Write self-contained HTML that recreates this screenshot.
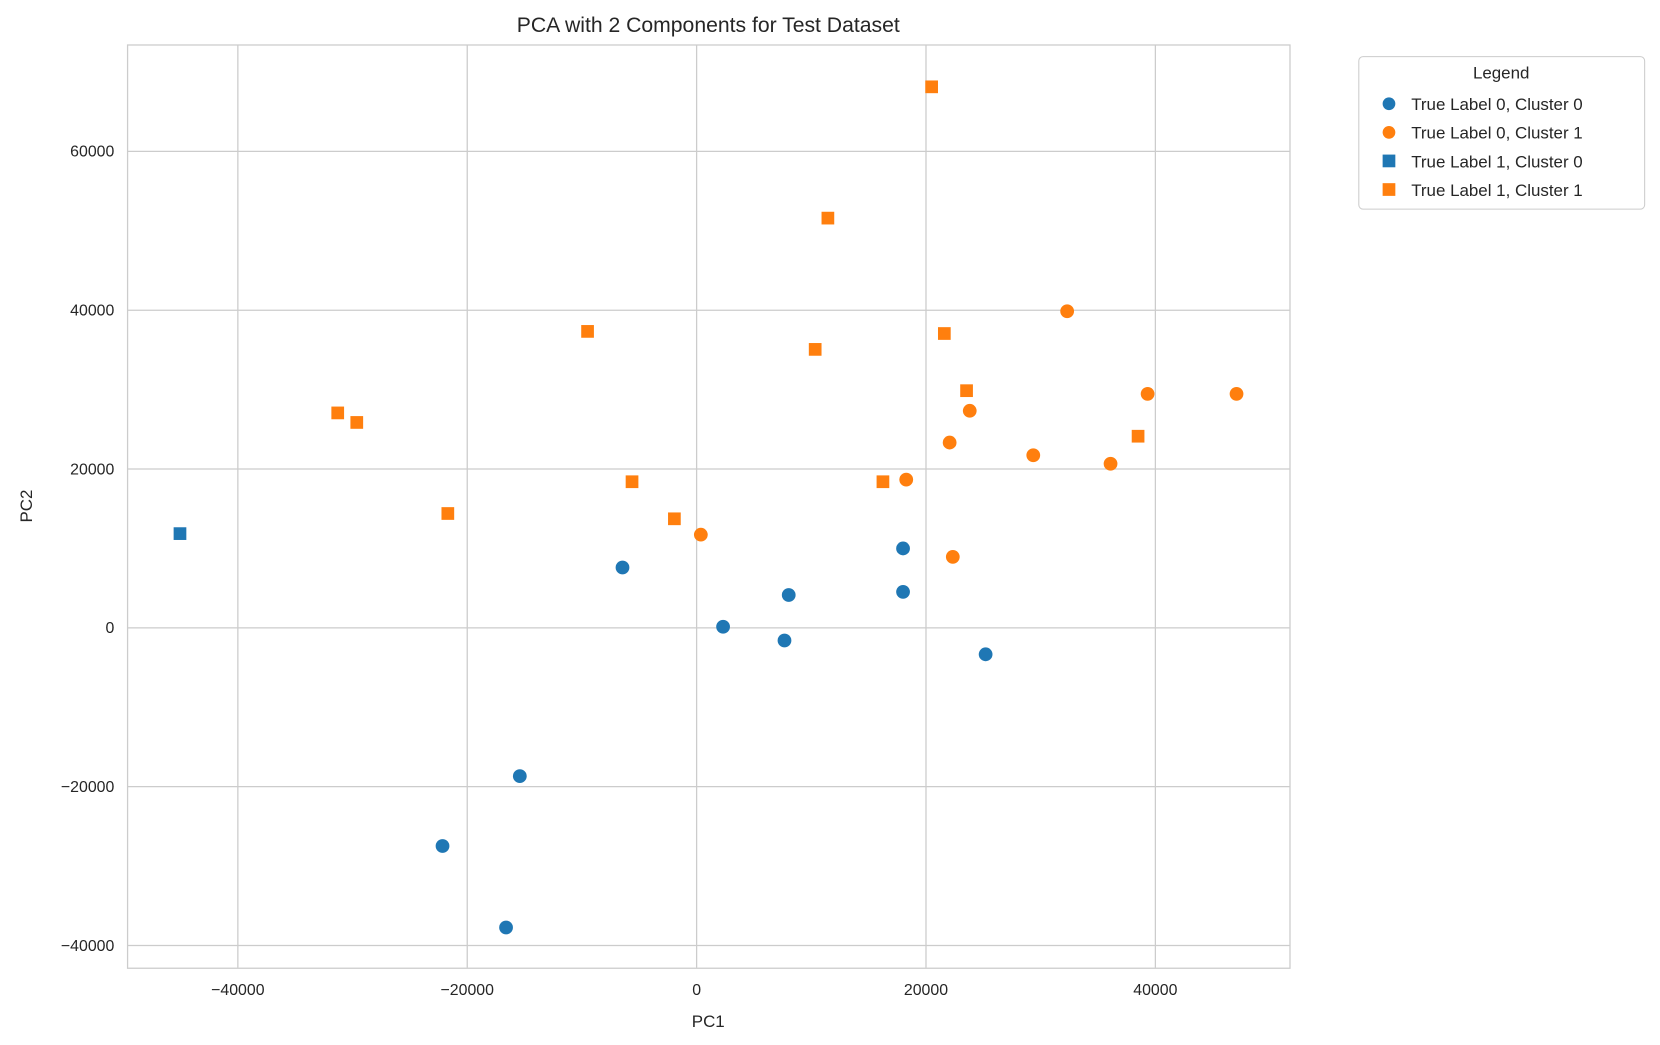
<!DOCTYPE html>
<html><head><meta charset="utf-8"><style>
body{margin:0;background:#fff;font-family:"Liberation Sans","DejaVu Sans",sans-serif;}
svg{display:block}
svg text{font-family:"Liberation Sans","DejaVu Sans",sans-serif;fill:#262626;}
</style></head><body>
<svg id="chart" width="1660" height="1045" viewBox="0 0 1568 987" preserveAspectRatio="none" xmlns="http://www.w3.org/2000/svg">
<rect width="1568" height="987" fill="#fff"/>
<g id="grid"></g>
<rect x="120.5" y="42.5" width="1098" height="872" fill="none" stroke="#ccc" stroke-width="1.2"/>
<g id="ticks"></g>
<g id="marks"></g>
<text x="669" y="30" font-size="20" text-anchor="middle">PCA with 2 Components for Test Dataset</text>
<text x="669" y="970" font-size="16" text-anchor="middle">PC1</text>
<text x="0" y="0" font-size="16" text-anchor="middle" transform="translate(30,478) rotate(-90)">PC2</text>
<g>
<rect x="1283.5" y="53.5" width="270" height="144" rx="4" fill="#fff" stroke="#ccc"/>
<text x="1418" y="74" font-size="16" text-anchor="middle">Legend</text>
<g id="legend-items"></g>
</g>
</svg>
<script>
const xTicks=[-40000,-20000,0,20000,40000];
const yTicks=[-40000,-20000,0,20000,40000,60000];
const blueCircX=[-6462,2308,8031,7662,18000,18000,25200,-15415,-22154,-16615];
const blueCircY=[7600,133,4133,-1600,10000,4533,-3333,-18667,-27467,-37733];
const orangeCircX=[369,18277,22062,23815,22338,29354,32308,36092,39323,47077];
const orangeCircY=[11733,18667,23333,27333,8933,21733,39867,20667,29467,29467];
const blueSqX=[-45046];
const blueSqY=[11867];
const orangeSqX=[20492,11446,-9508,10338,21600,23538,-31292,-29631,-5631,16246,-21692,-1938,38492];
const orangeSqY=[68133,51600,37333,35067,37067,29867,27067,25867,18400,18400,14400,13733,24133];
const legendLabels=["True Label 0, Cluster 0","True Label 0, Cluster 1","True Label 1, Cluster 0","True Label 1, Cluster 1"];
const BLUE="#1f77b4",ORANGE="#ff7f0e";
const xMin=-49662,xMax=51692,yMin=-42800,yMax=73467;
const L=120,R=1218,T=42,B=914;
const sx=v=>L+(v-xMin)/(xMax-xMin)*(R-L);
const sy=v=>B-(v-yMin)/(yMax-yMin)*(B-T);
const NS="http://www.w3.org/2000/svg";
function mk(tag,attrs,parent){const e=document.createElementNS(NS,tag);for(const k in attrs)e.setAttribute(k,attrs[k]);parent.appendChild(e);return e;}
const grid=document.getElementById('grid'),ticks=document.getElementById('ticks'),marks=document.getElementById('marks');
xTicks.forEach(v=>{const x=sx(v);
 const l=mk('line',{x1:x,x2:x,y1:T,y2:B,stroke:'#ccc','stroke-width':1.2},grid);
 
 
 const t=mk('text',{x:x,y:B+26,'font-size':15,'text-anchor':'middle'},ticks);t.textContent=v<0?'\u2212'+(-v):String(v);
 
 });
yTicks.forEach(v=>{const y=sy(v);
 const l=mk('line',{x1:L,x2:R,y1:y,y2:y,stroke:'#ccc','stroke-width':1.2},grid);
 
 
 const t=mk('text',{x:L-12,y:y+5,'font-size':15,'text-anchor':'end'},ticks);t.textContent=v<0?'\u2212'+(-v):String(v);
 
 });
function circ(xs,ys,c,name){xs.forEach((v,i)=>{const e=mk('circle',{cx:sx(v),cy:sy(ys[i]),r:6.5,fill:c},marks);
 
 });}
function sq(xs,ys,c,name){xs.forEach((v,i)=>{const e=mk('rect',{x:sx(v)-6,y:sy(ys[i])-6,width:12,height:12,fill:c},marks);
 
 });}
circ(blueCircX,blueCircY,BLUE,'point-label0-cluster0');
circ(orangeCircX,orangeCircY,ORANGE,'point-label0-cluster1');
sq(blueSqX,blueSqY,BLUE,'point-label1-cluster0');
sq(orangeSqX,orangeSqY,ORANGE,'point-label1-cluster1');
const li=document.getElementById('legend-items');
const lc=[BLUE,ORANGE,BLUE,ORANGE],ls=[0,0,1,1];
legendLabels.forEach((lab,i)=>{const y=98+i*27;
 let m;
 if(ls[i])m=mk('rect',{x:1306,y:y-6,width:12,height:12,fill:lc[i]},li);else m=mk('circle',{cx:1312,cy:y,r:6,fill:lc[i]},li);
 
 
 const t=mk('text',{x:1333,y:y+6,'font-size':16},li);t.textContent=lab;
 
 });
</script>
</body></html>
